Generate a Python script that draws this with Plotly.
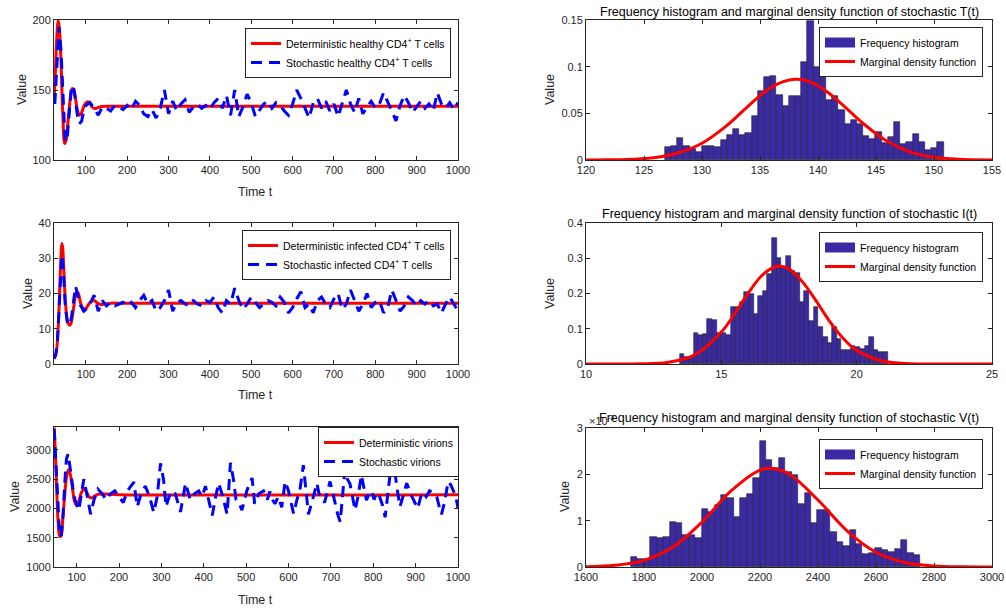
import plotly.graph_objects as go

# ---------------- data: time series ----------------
t_T_det = [23, 26, 29, 33, 36, 40, 44, 49, 53, 57, 62, 67, 71, 76, 80, 85, 90, 96, 102, 106, 111, 116, 122, 128, 135, 150, 200, 1000]
T_det = [142, 160, 183, 199.5, 194, 170, 135, 111.8, 115, 128, 143, 151, 150, 142, 135, 132, 134, 139, 141.3, 141.5, 140, 137.5, 136.7, 137.2, 138, 138.4, 138.4, 138.4]

t_T_sto = [25, 30, 35, 40, 45, 50, 55, 60, 65, 70, 75, 80, 85, 90, 95, 100,
           110, 120, 130, 140, 150, 160, 170, 180, 190, 200, 210, 220, 230, 240, 250, 260, 270, 280, 290, 300,
           310, 320, 330, 340, 350, 360, 370, 380, 390, 400, 410, 420, 430, 440, 450, 460, 470, 480, 490, 500,
           510, 520, 530, 540, 550, 560, 570, 580, 590, 600, 610, 620, 630, 640, 650, 660, 670, 680, 690, 700,
           710, 720, 730, 740, 750, 760, 770, 780, 790, 800, 810, 820, 830, 840, 850, 860, 870, 880, 890, 900,
           910, 920, 930, 940, 950, 960, 970, 980, 990, 1000]
T_sto = [140, 172, 195, 178, 140, 113, 116, 135, 152, 153, 142, 131, 126, 128, 135, 139,
         141, 137, 132, 138, 137, 135, 139, 138, 136, 139, 136, 142, 139, 133, 131, 136, 130, 137, 150, 133,
         142, 135, 140, 143, 134, 138, 140, 137, 139, 136, 141, 144, 137, 146, 132, 150, 131, 138, 147, 141,
         131, 136, 140, 142, 137, 141, 139, 135, 132, 140, 150, 144, 137, 130, 141, 144, 137, 142, 135, 140,
         131, 140, 150, 140, 134, 144, 133, 138, 142, 137, 140, 148, 142, 135, 128, 139, 146, 141, 134, 138,
         142, 137, 140, 135, 148, 140, 137, 141, 136, 141]

t_I_det = [23, 28, 33, 37, 40, 42, 44, 47, 51, 55, 60, 64, 68, 73, 78, 82, 87, 93, 100, 106, 113, 120, 127, 135, 145, 160, 200, 1000]
I_det = [1.5, 3, 10, 22, 31, 34.2, 33, 26, 17, 12.5, 11, 11.5, 14, 18, 20.5, 20, 17.5, 15.8, 15.7, 16.8, 17.8, 18, 17.4, 16.9, 17, 17.25, 17.2, 17.2]

t_I_sto = [23, 27, 31, 35, 38, 42, 46, 50, 55, 60, 65, 70, 75, 80, 85, 90, 95, 100,
           110, 120, 130, 140, 150, 160, 170, 180, 190, 200, 210, 220, 230, 240, 250, 260, 270, 280, 290, 300,
           310, 320, 330, 340, 350, 360, 370, 380, 390, 400, 410, 420, 430, 440, 450, 460, 470, 480, 490, 500,
           510, 520, 530, 540, 550, 560, 570, 580, 590, 600, 610, 620, 630, 640, 650, 660, 670, 680, 690, 700,
           710, 720, 730, 740, 750, 760, 770, 780, 790, 800, 810, 820, 830, 840, 850, 860, 870, 880, 890, 900,
           910, 920, 930, 940, 950, 960, 970, 980, 990, 1000]
I_sto = [1.5, 2.5, 6, 15, 25, 31, 26, 17, 12, 11, 13, 18, 22, 20, 17, 16, 15, 15.5,
         17, 19.5, 15, 18, 16.5, 17.5, 16.5, 17, 17.5, 16.5, 17.5, 16, 18, 19.5, 17, 18, 15, 16, 18, 21,
         15, 17.5, 18, 17, 16.5, 18, 17, 16.5, 18, 17.5, 19, 16, 14.5, 18, 17, 21.5, 18, 15.5, 17, 19,
         17.5, 16, 17, 18, 17.5, 16.5, 19, 17.5, 14.5, 16, 18.5, 20.5, 16, 17, 14.5, 18, 19, 17, 16, 18.5,
         20, 15.5, 17, 21, 18, 15, 17, 20, 16, 17.5, 18, 14.5, 16, 21, 18, 15, 16.5, 19, 18, 16.5,
         18, 17, 18, 16.5, 17, 14.5, 17, 19, 17, 15]

t_V_det = [47, 50, 53, 56, 60, 63, 67, 72, 77, 81, 85, 90, 95, 100, 105, 110, 116, 122, 128, 134, 140, 150, 165, 200, 1000]
V_det = [3380, 2900, 2300, 1800, 1520, 1530, 1800, 2250, 2580, 2660, 2580, 2350, 2120, 2050, 2120, 2250, 2320, 2300, 2210, 2180, 2200, 2240, 2245, 2235, 2235]

t_V_sto = [47, 52, 56, 60, 64, 68, 72, 76, 80, 84, 88, 92, 96, 100, 105, 110, 117, 125, 133, 141, 150, 160, 170, 180,
           190, 200, 210, 220, 235, 243, 252, 262, 272, 282, 290, 298, 305, 311, 318, 325, 333, 345, 357, 368,
           378, 388, 396, 404, 412, 420, 428, 435, 445, 455, 463, 470, 476, 483, 490, 502, 514, 520, 530, 541,
           550, 556, 562, 568, 576, 584, 592, 600, 606, 612, 620, 627, 635, 641, 647, 655, 662, 667, 672, 678,
           685, 692, 698, 705, 710, 716, 722, 728, 733, 739, 745, 751, 757, 764, 772, 778, 784, 790, 796, 802,
           808, 815, 822, 828, 834, 840, 846, 851, 857, 863, 870, 879, 888, 898, 905, 912, 918, 925, 933, 941,
           950, 955, 961, 968, 977, 983, 989, 995, 1000]
V_sto = [3350, 2600, 1900, 1520, 1550, 1900, 2450, 2850, 2930, 2700, 2500, 2300, 2150, 2050, 1970, 2200, 2500, 2200, 1900, 2150, 2330, 2250, 2150, 2250,
         2300, 2200, 2100, 2300, 2450, 2030, 2250, 2380, 2200, 1930, 2200, 2770, 2490, 2030, 2200, 2300, 2250, 1940, 2430, 2150,
         2250, 2300, 2200, 2380, 2150, 1880, 2200, 2430, 2200, 1900, 2780, 2500, 2150, 2100, 1970, 2310, 2520, 2080, 2250, 2300,
         2150, 2290, 2150, 2080, 2200, 2020, 2460, 2300, 2100, 1910, 2150, 2320, 2740, 2350, 1900, 2100, 2300, 2430, 2250, 2200,
         2100, 2300, 2460, 2250, 2080, 1900, 1770, 2200, 2660, 2500, 2420, 2200, 1970, 2200, 2570, 2350, 2140, 2250, 2300, 2150,
         2270, 2200, 2050, 1850, 2250, 2600, 2620, 2630, 2300, 2030, 2200, 2430, 2250, 2100, 2000, 2200, 2280, 2200, 2300, 2270,
         2200, 2050, 1900, 2100, 2460, 2400, 2300, 2200, 2000]

# ---------------- data: histograms ----------------
T_bin_start, T_bin_width = 126.8, 0.534
T_freq = [0.0139, 0.0154, 0.024, 0.015, 0.0114, 0.0089, 0.0146, 0.0146, 0.0136, 0.0218, 0.0268, 0.0329, 0.0268, 0.029,
          0.0475, 0.074, 0.089, 0.090, 0.0696, 0.058, 0.069, 0.069, 0.105, 0.149, 0.100, 0.090, 0.064, 0.069, 0.0536,
          0.0386, 0.0425, 0.039, 0.0254, 0.0225, 0.030, 0.018, 0.025, 0.041, 0.0175, 0.019, 0.028, 0.019, 0.011,
          0.013, 0.0196]
I_bin_start, I_bin_width = 13.46, 0.1708
I_freq = [0.028, 0.021, 0.021, 0.087, 0.082, 0.085, 0.127, 0.125, 0.089, 0.087, 0.081, 0.163, 0.161, 0.176, 0.204,
          0.199, 0.142, 0.193, 0.208, 0.254, 0.357, 0.300, 0.276, 0.306, 0.265, 0.257, 0.176, 0.208, 0.123, 0.161,
          0.106, 0.076, 0.061, 0.104, 0.070, 0.040, 0.040, 0.051, 0.047, 0.043, 0.051, 0.076, 0.040, 0.034, 0.034]
V_bin_start, V_bin_width = 1755.2, 22.17
V_freq_e3 = [0.216, 0.17, 0.17, 0.655, 0.626, 0.655, 0.964, 0.95, 0.683, 0.683, 0.626, 1.245, 1.187, 1.33, 1.56,
             1.5, 1.08, 1.48, 1.58, 1.93, 2.72, 2.3, 2.14, 2.35, 2.05, 1.99, 1.36, 1.6, 0.94, 1.24, 1.24, 0.75,
             0.55, 0.45, 0.8, 0.5, 0.29, 0.30, 0.40, 0.36, 0.32, 0.38, 0.58, 0.30, 0.26]

# marginal density curves
T_pdf_x = [120, 122, 124, 126, 128, 130, 132, 134, 135, 136, 137, 138, 139, 140, 141, 142, 144, 146, 148, 150, 152, 155]
T_pdf_y = [0.0000, 0.0002, 0.0008, 0.0027, 0.0078, 0.0180, 0.0355, 0.0580, 0.0690, 0.0780, 0.0840, 0.0865, 0.0850,
           0.0795, 0.0710, 0.0605, 0.0380, 0.0198, 0.0085, 0.0030, 0.0009, 0.0001]
I_pdf_x = [10, 12, 13, 14, 15, 15.5, 16, 16.5, 17, 17.15, 17.5, 18, 18.5, 19, 19.5, 20, 21, 22, 23, 25]
I_pdf_y = [0.0, 0.0004, 0.0043, 0.025, 0.0907, 0.1437, 0.2018, 0.251, 0.2765, 0.278, 0.270, 0.233, 0.179, 0.121,
           0.0728, 0.0387, 0.0076, 0.0009, 0.0001, 0.0]
V_pdf_x = [1600, 1700, 1800, 1900, 2000, 2100, 2200, 2235, 2300, 2400, 2500, 2600, 2700, 2800, 2900, 3000]
V_pdf_y_e3 = [0.0068, 0.036, 0.1436, 0.430, 0.970, 1.642, 2.093, 2.13, 2.006, 1.445, 0.782, 0.319, 0.098, 0.0225, 0.003, 0.0003]

left_xticks = [100, 200, 300, 400, 500, 600, 700, 800, 900, 1000]

# ---------------- figure ----------------
W, H = 1006, 612
FONT = "Liberation Sans, Arial, Helvetica, sans-serif"
TXT = "#262626"
RED = "#FF0000"
BLUE = "#0000FF"
BAR = "#3B2AA6"


def fx(p):
    return p / W


def fy(p):
    return 1 - p / H


fig = go.Figure()

# left panels
fig.add_trace(go.Scatter(x=t_T_det, y=T_det, mode="lines", line=dict(color=RED, width=3, shape="spline"),
                         name="Deterministic healthy CD4<sup>+</sup> T cells", xaxis="x", yaxis="y", legend="legend"))
fig.add_trace(go.Scatter(x=t_T_sto, y=T_sto, mode="lines", line=dict(color=BLUE, width=3, dash="11px,7px"),
                         name="Stochastic healthy CD4<sup>+</sup> T cells", xaxis="x", yaxis="y", legend="legend"))
fig.add_trace(go.Scatter(x=t_I_det, y=I_det, mode="lines", line=dict(color=RED, width=3, shape="spline"),
                         name="Deterministic infected CD4<sup>+</sup> T cells", xaxis="x3", yaxis="y3", legend="legend3"))
fig.add_trace(go.Scatter(x=t_I_sto, y=I_sto, mode="lines", line=dict(color=BLUE, width=3, dash="11px,7px"),
                         name="Stochastic infected CD4<sup>+</sup> T cells", xaxis="x3", yaxis="y3", legend="legend3"))
fig.add_trace(go.Scatter(x=t_V_det, y=V_det, mode="lines", line=dict(color=RED, width=3, shape="spline"),
                         name="Deterministic virions", xaxis="x5", yaxis="y5", legend="legend5"))
fig.add_trace(go.Scatter(x=t_V_sto, y=V_sto, mode="lines", line=dict(color=BLUE, width=3, dash="11px,7px"),
                         name="Stochastic virions", xaxis="x5", yaxis="y5", legend="legend5"))


def centers(start, width, n):
    return [start + width * (i + 0.5) for i in range(n)]


hist_specs = [
    (T_bin_start, T_bin_width, T_freq, T_pdf_x, T_pdf_y, "x2", "y2", "legend2"),
    (I_bin_start, I_bin_width, I_freq, I_pdf_x, I_pdf_y, "x4", "y4", "legend4"),
    (V_bin_start, V_bin_width, [v * 1e-3 for v in V_freq_e3], V_pdf_x, [v * 1e-3 for v in V_pdf_y_e3], "x6", "y6", "legend6"),
]
for start, width, freq, px_, py_, xa, ya, lg in hist_specs:
    fig.add_trace(go.Bar(x=centers(start, width, len(freq)), y=freq, width=width,
                         marker=dict(color=BAR, line=dict(color="#222222", width=0.6)),
                         name="Frequency histogram", xaxis=xa, yaxis=ya, showlegend=False))
    # legend entry drawn as a wide filled patch (like MATLAB's legend)
    fig.add_trace(go.Scatter(x=[None], y=[None], mode="lines", line=dict(color=BAR, width=13),
                             name="Frequency histogram", xaxis=xa, yaxis=ya, legend=lg))
    fig.add_trace(go.Scatter(x=px_, y=py_, mode="lines", line=dict(color=RED, width=3, shape="spline"),
                             name="Marginal density function", xaxis=xa, yaxis=ya, legend=lg))

axis_common = dict(showline=True, linecolor=TXT, linewidth=1, mirror="ticks", ticks="inside", ticklen=4,
                   tickcolor=TXT, tickfont=dict(family=FONT, size=11, color=TXT), showgrid=False,
                   zeroline=False, fixedrange=True)

LX = [fx(54), fx(458)]
RX = [fx(586), fx(992)]
rows = [(fy(160), fy(20)), (fy(364), fy(223)), (fy(567), fy(427))]

layout = dict(
    width=W, height=H, margin=dict(l=0, r=0, t=0, b=0, autoexpand=False), paper_bgcolor="white",
    plot_bgcolor="white", showlegend=True, bargap=0, font=dict(family=FONT, color=TXT),
    xaxis=dict(axis_common, domain=LX, anchor="y", range=[23, 1000], tickvals=left_xticks),
    yaxis=dict(axis_common, domain=rows[0], anchor="x", range=[100, 200], tickvals=[100, 150, 200]),
    xaxis2=dict(axis_common, domain=RX, anchor="y2", range=[120, 155], tickvals=[120, 125, 130, 135, 140, 145, 150, 155]),
    yaxis2=dict(axis_common, domain=rows[0], anchor="x2", range=[0, 0.15], tickvals=[0, 0.05, 0.1, 0.15],
                ticktext=["0", "0.05", "0.1", "0.15"]),
    xaxis3=dict(axis_common, domain=LX, anchor="y3", range=[23, 1000], tickvals=left_xticks),
    yaxis3=dict(axis_common, domain=rows[1], anchor="x3", range=[0, 40], tickvals=[0, 10, 20, 30, 40]),
    xaxis4=dict(axis_common, domain=RX, anchor="y4", range=[10, 25], tickvals=[10, 15, 20, 25]),
    yaxis4=dict(axis_common, domain=rows[1], anchor="x4", range=[0, 0.4], tickvals=[0, 0.1, 0.2, 0.3, 0.4],
                ticktext=["0", "0.1", "0.2", "0.3", "0.4"]),
    xaxis5=dict(axis_common, domain=LX, anchor="y5", range=[46.5, 1000], tickvals=left_xticks),
    yaxis5=dict(axis_common, domain=rows[2], anchor="x5", range=[1000, 3390], tickvals=[1000, 1500, 2000, 2500, 3000]),
    xaxis6=dict(axis_common, domain=RX, anchor="y6", range=[1600, 3000], tickvals=[1600, 1800, 2000, 2200, 2400, 2600, 2800, 3000]),
    yaxis6=dict(axis_common, domain=(fy(567), fy(428)), anchor="x6", range=[0, 0.003],
                tickvals=[0, 0.001, 0.002, 0.003], ticktext=["0", "1", "2", "3"]),
)

leg_common = dict(bgcolor="white", bordercolor=TXT, borderwidth=1, font=dict(family=FONT, size=10.5, color="black"),
                  xanchor="left", yanchor="top", itemwidth=30, tracegroupgap=0)
layout["legend"] = dict(leg_common, x=fx(245), y=fy(28))
layout["legend3"] = dict(leg_common, x=fx(242), y=fy(230))
layout["legend5"] = dict(leg_common, x=fx(318), y=fy(427))
layout["legend2"] = dict(leg_common, x=fx(819), y=fy(27))
layout["legend4"] = dict(leg_common, x=fx(819), y=fy(232))
layout["legend6"] = dict(leg_common, x=fx(819), y=fy(439))
fig.update_layout(**layout)

ann = []


def text(x, y, s, size=12.5, angle=0, color=TXT, xanchor="center"):
    ann.append(dict(x=fx(x), y=fy(y), xref="paper", yref="paper", text=s, showarrow=False, textangle=angle,
                    font=dict(family=FONT, size=size, color=color), xanchor=xanchor, yanchor="middle"))


# axis titles
text(256, 192, "Time t")
text(256, 395, "Time t")
text(256, 600, "Time t")
text(22, 90, "Value", angle=-90)
text(28, 294, "Value", angle=-90)
text(15, 497, "Value", angle=-90)
text(550, 90, "Value", angle=-90)
text(550, 294, "Value", angle=-90)
text(565, 497, "Value", angle=-90)
# titles
text(789, 12, "Frequency histogram and marginal density function of stochastic T(t)", size=12.5, color="black")
text(789, 214, "Frequency histogram and marginal density function of stochastic I(t)", size=12.5, color="black")
text(789, 418, "Frequency histogram and marginal density function of stochastic V(t)", size=12.5, color="black")
text(587, 420, "\u00d710<sup>-3</sup>", size=11, xanchor="left")
fig.update_layout(annotations=ann)

# place the figure at the page's top-left corner (remove the browser's default body margin)
fig.write_html("out.html", config={"displayModeBar": False},
               post_script="document.body.style.margin='0';")
